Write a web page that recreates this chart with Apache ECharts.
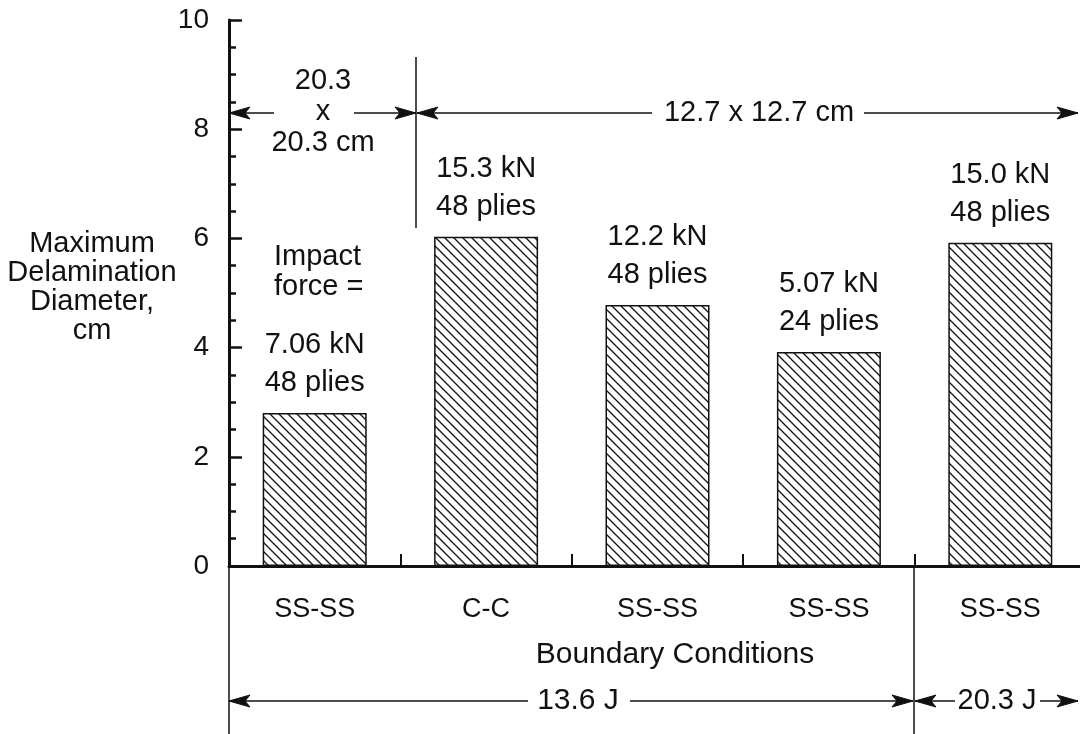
<!DOCTYPE html>
<html>
<head>
<meta charset="utf-8">
<style>
  html, body { margin: 0; padding: 0; background: #fff; }
  #chart { width: 1080px; height: 734px; }
</style>
<script src="https://cdn.jsdelivr.net/npm/echarts@6/dist/echarts.min.js"></script>
</head>
<body>
<div id="chart"></div>
<script>
// Boundary condition of each tested plate
const categories = ['SS-SS', 'C-C', 'SS-SS', 'SS-SS', 'SS-SS'];
// Maximum delamination diameter, cm
const diameters = [2.80, 6.03, 4.78, 3.92, 5.92];
// Impact force and laminate thickness written above each bar
const forceLabels = ['7.06 kN', '15.3 kN', '12.2 kN', '5.07 kN', '15.0 kN'];
const plyLabels = ['48 plies', '48 plies', '48 plies', '24 plies', '48 plies'];
// Value axis ticks
const yMin = 0, yMax = 10, yStep = 2;

const FONT = '"Liberation Sans", Arial, Helvetica, sans-serif';
const INK = '#111';

// Diagonal hatching ("\" direction) used to fill the bars
function hatchPattern() {
  const s = 9;
  const c = document.createElement('canvas');
  c.width = s; c.height = s;
  const g = c.getContext('2d');
  g.fillStyle = '#fff';
  g.fillRect(0, 0, s, s);
  g.strokeStyle = INK;
  g.lineWidth = 1.3;
  g.beginPath();
  g.moveTo(-1, -1); g.lineTo(s + 1, s + 1);
  g.moveTo(s - 2, -2); g.lineTo(s + 2, 2);
  g.moveTo(-2, s - 2); g.lineTo(2, s + 2);
  g.stroke();
  return c;
}

const chart = echarts.init(document.getElementById('chart'), null, { renderer: 'canvas' });

const textStyle = (txt, x, y, opts) => Object.assign({
  type: 'text',
  x: x, y: y,
  silent: true,
  style: Object.assign({
    text: txt,
    fill: INK,
    font: '29px ' + FONT,
    align: 'center',
    verticalAlign: 'middle'
  }, opts || {})
});

const line = (x1, y1, x2, y2, w) => ({
  type: 'line', silent: true,
  shape: { x1: x1, y1: y1, x2: x2, y2: y2 },
  style: { stroke: INK, lineWidth: w || 1.5 }
});

// Filled arrowhead; dir = -1 points left, +1 points right
const head = (x, y, dir) => ({
  type: 'polygon', silent: true,
  shape: { points: [[x, y], [x - dir * 21, y - 6], [x - dir * 16, y], [x - dir * 21, y + 6]] },
  style: { fill: INK, stroke: INK, lineWidth: 1 }
});

const option = {
  backgroundColor: '#fff',
  animation: false,
  grid: {
    left: 229, top: 20, width: 857, height: 546,
    containLabel: false,
    outerBoundsMode: 'none'
  },
  xAxis: {
    type: 'category',
    data: categories,
    boundaryGap: true,
    axisLine: { show: true, lineStyle: { color: INK, width: 3 } },
    axisTick: { show: true, inside: true, length: 12, lineStyle: { color: INK, width: 2 } },
    axisLabel: { color: INK, fontFamily: FONT, fontSize: 27, margin: 30 },
    splitLine: { show: false }
  },
  yAxis: {
    type: 'value',
    min: yMin, max: yMax, interval: yStep,
    axisLine: { show: true, lineStyle: { color: INK, width: 3 } },
    axisTick: { show: true, inside: true, length: 13, lineStyle: { color: INK, width: 2.5 } },
    minorTick: { show: true, splitNumber: 4, length: 7, lineStyle: { color: INK, width: 2.5 } },
    axisLabel: { color: INK, fontFamily: FONT, fontSize: 28, margin: 20 },
    splitLine: { show: false }
  },
  series: [{
    type: 'bar',
    data: diameters,
    barWidth: 104,
    itemStyle: {
      color: { image: hatchPattern(), repeat: 'repeat' },
      borderColor: INK,
      borderWidth: 1.5
    },
    label: {
      show: true,
      position: 'top',
      distance: 11,
      color: INK,
      fontFamily: FONT,
      fontSize: 29,
      lineHeight: 38,
      formatter: p => forceLabels[p.dataIndex] + '\n' + plyLabels[p.dataIndex]
    },
    emphasis: { disabled: true }
  }],
  graphic: [
    // y-axis title
    textStyle('Maximum\nDelamination\nDiameter,\ncm', 92, 287, { lineHeight: 29, font: '29px ' + FONT }),
    // impact force caption
    textStyle('Impact\nforce =', 274, 272, { align: 'left', lineHeight: 30 }),
    // plate size: 20.3 x 20.3 cm
    textStyle('20.3\nx\n20.3 cm', 323, 112, { lineHeight: 31 }),
    line(229, 113, 274, 113),
    head(229, 113, -1),
    line(354, 113, 416, 113),
    head(416, 113, 1),
    line(416, 57, 416, 228),
    // plate size: 12.7 x 12.7 cm
    head(417, 113, -1),
    line(417, 113, 652, 113),
    textStyle('12.7 x 12.7 cm', 759, 113),
    line(864, 113, 1078, 113),
    head(1078, 113, 1),
    // x-axis title
    textStyle('Boundary Conditions', 675, 655, { font: '30px ' + FONT }),
    // axis continuation and impact energy divider
    line(229, 566, 229, 734),
    line(914, 566, 914, 734),
    // impact energy: 13.6 J
    head(229, 701, -1),
    line(229, 701, 528, 701),
    textStyle('13.6 J', 578, 701, { font: '30px ' + FONT }),
    line(630, 701, 913, 701),
    head(913, 701, 1),
    // impact energy: 20.3 J
    head(915, 701, -1),
    line(915, 701, 955, 701),
    textStyle('20.3 J', 997, 701),
    line(1040, 701, 1078, 701),
    head(1078, 701, 1)
  ]
};

chart.setOption(option);
</script>
</body>
</html>
